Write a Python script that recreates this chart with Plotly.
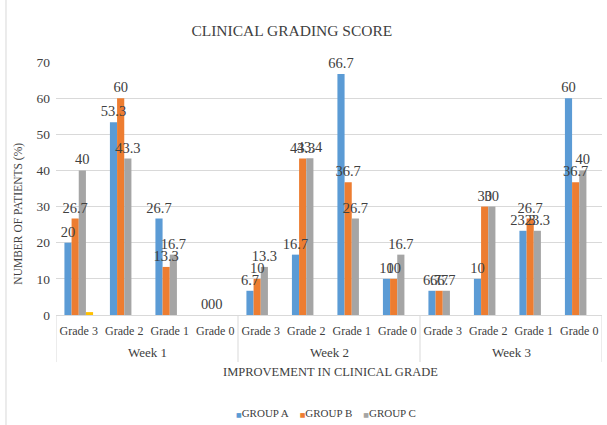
import plotly.graph_objects as go

weeks = ["Week 1"] * 4 + ["Week 2"] * 4 + ["Week 3"] * 4
grades = ["Grade 3", "Grade 2", "Grade 1", "Grade 0"] * 3

group_a = [20, 53.3, 26.7, 0, 6.7, 16.7, 66.7, 10, 6.7, 10, 23.3, 60]
group_b = [26.7, 60, 13.3, 0, 10, 43.3, 36.7, 10, 6.7, 30, 26.7, 36.7]
group_c = [40, 43.3, 16.7, 0, 13.3, 43.4, 26.7, 16.7, 6.7, 30, 23.3, 40]
group_d = [0.8, 0, 0, 0, 0, 0, 0, 0, 0, 0, 0, 0]

series = [
    ("GROUP A", group_a, "#5B9BD5", True),
    ("GROUP B", group_b, "#ED7D31", True),
    ("GROUP C", group_c, "#A5A5A5", True),
    ("", group_d, "#FFC000", False),
]

SERIF = "Liberation Serif, Times New Roman, serif"
TXT = "#404040"
GRID = "#d9d9d9"

idx = list(range(len(grades)))

fig = go.Figure()
for i, (name, vals, color, labelled) in enumerate(series):
    fig.add_trace(go.Bar(
        x=idx, y=vals, name=name or "series 4", offsetgroup=str(i),
        marker=dict(color=color, line=dict(width=0)),
        showlegend=False, hoverinfo="skip" if not labelled else None,
    ))
# data labels drawn above all bars
for i, (name, vals, color, labelled) in enumerate(series):
    if not labelled:
        continue
    fig.add_trace(go.Bar(
        x=idx, y=vals, name=name + " labels", offsetgroup=str(i),
        marker=dict(color="rgba(0,0,0,0)", line=dict(width=0)),
        text=[f"{v:g}" for v in vals], textposition="outside",
        constraintext="none", cliponaxis=False,
        textfont=dict(family=SERIF, size=14.5, color=TXT),
        showlegend=False, hoverinfo="skip",
    ))

fig.update_layout(
    width=607, height=425,
    margin=dict(l=56, r=5, t=62, b=110),
    paper_bgcolor="white", plot_bgcolor="white",
    barmode="group", bargap=0.37, bargroupgap=0,
    title=dict(text="CLINICAL GRADING SCORE", x=0.432, xref="paper",
               xanchor="center", y=0.927, yanchor="middle",
               font=dict(family=SERIF, size=15.5, color=TXT)),
    font=dict(family=SERIF, color=TXT),
    showlegend=False,
)
fig.update_yaxes(range=[0, 70], dtick=10, showgrid=True, gridcolor=GRID,
                 zeroline=False, showline=False, ticks="", automargin=False,
                 ticklabelstandoff=5,
                 tickfont=dict(family=SERIF, size=13.5, color=TXT))
fig.update_xaxes(range=[-0.5, len(grades) - 0.5], tickmode="array",
                 tickvals=idx, ticktext=grades, showgrid=False, zeroline=False,
                 showline=True, linecolor=GRID, ticks="", ticklabelstandoff=5,
                 automargin=False,
                 tickfont=dict(family=SERIF, size=12, color=TXT))

# outer category level (weeks): labels and dividers
week_names = list(dict.fromkeys(weeks))
bounds = [-0.5]
for w in week_names:
    members = [k for k, ww in enumerate(weeks) if ww == w]
    center = (members[0] + members[-1]) / 2
    fig.add_annotation(text=w, showarrow=False, xref="x", yref="paper",
                       x=center, y=-0.150, xanchor="center", yanchor="middle",
                       font=dict(family=SERIF, size=13, color=TXT))
    bounds.append(members[-1] + 0.5)
for b in bounds:
    fig.add_shape(type="line", xref="x", yref="paper", x0=b, x1=b,
                  y0=0, y1=-0.186, line=dict(color=GRID, width=1))

fig.add_annotation(text="NUMBER OF PATIENTS (%)", textangle=-90, showarrow=False,
                   xref="paper", yref="paper", x=-0.068, y=0.40,
                   xanchor="center", yanchor="middle",
                   font=dict(family=SERIF, size=11.5, color=TXT))
fig.add_annotation(text="IMPROVEMENT IN CLINICAL GRADE", showarrow=False,
                   xref="paper", yref="paper", x=0.502, y=-0.225,
                   xanchor="center", yanchor="middle",
                   font=dict(family=SERIF, size=12.5, color=TXT))

# legend in the reference's compact style: small coloured squares + names
legend_html = "&nbsp;&nbsp;&nbsp;&nbsp;".join(
    f"<span style='color:{c};font-size:6px;font-family:DejaVu Sans'>■</span>{n}"
    for n, _, c, lab in series if lab
)
fig.add_annotation(text=legend_html, showarrow=False, xref="paper", yref="paper",
                   x=0.495, y=-0.387, xanchor="center", yanchor="middle",
                   font=dict(family=SERIF, size=11, color=TXT))

# chart-area border on the left
fig.add_shape(type="line", xref="paper", yref="paper", x0=-0.0916, x1=-0.0916,
              y0=-0.435, y1=1.245, line=dict(color=GRID, width=1))

fig.write_html("out.html", config={"displayModeBar": False},
               post_script="document.body.style.margin='0';")
